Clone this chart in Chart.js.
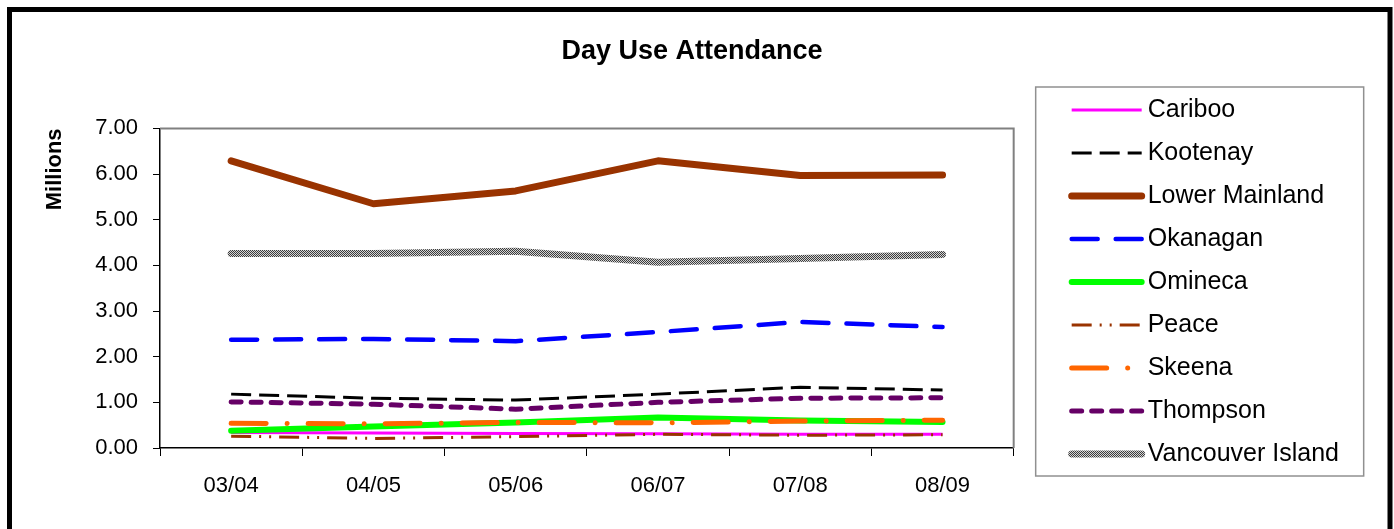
<!DOCTYPE html>
<html>
<head>
<meta charset="utf-8">
<script src="https://cdn.jsdelivr.net/npm/chart.js@4.4.1/dist/chart.umd.min.js"></script>
<style>
body { margin: 0; background: #fff; }
#wrap { width: 1394px; height: 529px; }
</style>
</head>
<body>
<div id="wrap"><canvas id="lineChart"></canvas></div>
<script>
// data (millions of visits)
var seasons = ["03/04", "04/05", "05/06", "06/07", "07/08", "08/09"];
var cariboo = [0.34, 0.33, 0.32, 0.31, 0.30, 0.30];
var kootenay = [1.18, 1.09, 1.05, 1.18, 1.33, 1.27];
var lowerMainland = [6.29, 5.35, 5.63, 6.29, 5.97, 5.98];
var okanagan = [2.37, 2.39, 2.34, 2.54, 2.76, 2.65];
var omineca = [0.38, 0.47, 0.56, 0.67, 0.60, 0.57];
var peace = [0.26, 0.21, 0.25, 0.30, 0.28, 0.29];
var skeena = [0.54, 0.53, 0.56, 0.55, 0.59, 0.61];
var thompson = [1.01, 0.96, 0.85, 1.00, 1.09, 1.10];
var vancouverIsland = [4.26, 4.26, 4.31, 4.07, 4.15, 4.24];
var yTicks = [0, 1, 2, 3, 4, 5, 6, 7];

var FONT = "'Liberation Sans', Arial, sans-serif";
var LEG_BOX = 103.5;   // blank space before legend text; the sample line is drawn in it

var ctxL = document.getElementById("lineChart").getContext('2d');

// grainy grey texture for Vancouver Island
var pc = document.createElement('canvas');
pc.width = 2; pc.height = 2;
var px = pc.getContext('2d');
px.fillStyle = '#d4d4d4'; px.fillRect(0, 0, 2, 2);
px.fillStyle = '#3c3c3c'; px.fillRect(0, 0, 1, 1); px.fillRect(1, 1, 1, 1);
var viPattern = ctxL.createPattern(pc, 'repeat');

function series(label, data, color, width, dash, cap, i) {
  return {
    label: label,
    data: data,
    borderColor: color,
    backgroundColor: color,
    borderWidth: width,
    borderDash: dash,
    borderCapStyle: cap,
    borderJoinStyle: 'round',
    pointRadius: 0,
    tension: 0,
    fill: false,
    order: 8 - i
  };
}

var frame = {
  id: 'frame',
  beforeDraw: function(chart) {
    var c = chart.ctx;
    c.save();
    c.fillStyle = '#fff';
    c.fillRect(0, 0, chart.width, chart.height);
    c.strokeStyle = '#000';
    c.lineWidth = 5;
    c.strokeRect(9.5, 9.5, 1380.5, 560);
    c.restore();
  },
  beforeDatasetsDraw: function(chart) {
    var a = chart.chartArea, c = chart.ctx;
    c.save();
    c.strokeStyle = '#808080';
    c.lineWidth = 2;
    c.beginPath();
    c.moveTo(a.left, a.top);
    c.lineTo(a.right, a.top);
    c.lineTo(a.right, a.bottom);
    c.stroke();
    c.restore();
  },
  afterDraw: function(chart) {
    var hb = chart.legend.legendHitBoxes;
    var items = chart.legend.legendItems;
    if (!hb || !hb.length) return;
    var c = chart.ctx;
    // legend samples with the series' own dash styles
    hb.forEach(function(h, i) {
      var ds = chart.data.datasets[items[i].datasetIndex];
      var tx = h.left + LEG_BOX + 12.5;
      var y = h.top + h.height / 2;
      c.save();
      c.strokeStyle = ds.borderColor;
      c.lineWidth = ds.borderWidth;
      c.lineCap = ds.borderCapStyle;
      c.setLineDash(ds.borderDash);
      c.beginPath();
      c.moveTo(tx - 76, y);
      c.lineTo(tx - 6, y);
      c.stroke();
      c.restore();
    });
    var last = hb[hb.length - 1];
    var x0 = hb[0].left + LEG_BOX + 12.5 - 112;
    var y0 = hb[0].top + hb[0].height / 2 - 23;
    var y1 = last.top + last.height / 2 + 22;
    c.save();
    c.strokeStyle = '#909090';
    c.lineWidth = 1.5;
    c.strokeRect(x0, y0, 328, y1 - y0);
    c.restore();
  }
};

var myLineChart = new Chart(ctxL, {
  type: 'line',
  data: {
    labels: seasons,
    datasets: [
      series("Cariboo", cariboo, '#FF00FF', 3, [], 'butt', 0),
      series("Kootenay", kootenay, '#000000', 3, [20, 8], 'butt', 1),
      series("Lower Mainland", lowerMainland, '#993300', 7, [], 'round', 2),
      series("Okanagan", okanagan, '#0000FF', 4.5, [26, 18], 'round', 3),
      series("Omineca", omineca, '#00FF00', 6, [], 'round', 4),
      series("Peace", peace, '#993300', 3, [20, 8, 2, 8, 2, 8], 'butt', 5),
      series("Skeena", skeena, '#FF6600', 5, [35, 21, 0.01, 21], 'round', 6),
      series("Thompson", thompson, '#660066', 5, [10, 10], 'round', 7),
      series("Vancouver Island", vancouverIsland, viPattern, 7, [], 'round', 8)
    ]
  },
  options: {
    responsive: true,
    maintainAspectRatio: false,
    animation: false,
    layout: { padding: { top: 35, left: 35, right: 45, bottom: 0 } },
    plugins: {
      title: {
        display: true,
        text: "Day Use Attendance",
        color: '#000',
        font: { family: FONT, size: 27, weight: 'bold' },
        padding: { top: 0, bottom: 61 }
      },
      legend: {
        position: 'right',
        align: 'center',
        maxWidth: 400,
        labels: {
          boxWidth: LEG_BOX,
          boxHeight: 25,
          padding: 18,
          color: '#000',
          font: { family: FONT, size: 25 },
          sort: function(a, b) { return a.datasetIndex - b.datasetIndex; },
          generateLabels: function(chart) {
            return Chart.defaults.plugins.legend.labels.generateLabels(chart).map(function(it) {
              it.fillStyle = 'rgba(0,0,0,0)';
              it.strokeStyle = 'rgba(0,0,0,0)';
              it.lineWidth = 0;
              return it;
            });
          }
        }
      },
      tooltip: { enabled: false }
    },
    scales: {
      x: {
        offset: true,
        grid: { offset: true, drawOnChartArea: false, tickLength: 8, color: '#000' },
        border: { color: '#000', width: 1.5 },
        ticks: {
          color: '#000', padding: 17, maxRotation: 0,
          font: { family: FONT, size: 22 }
        },
        afterFit: function(s) { s.height = 81; }
      },
      y: {
        min: 0,
        max: 7,
        afterBuildTicks: function(s) { s.ticks = yTicks.map(function(v) { return { value: v }; }); },
        grid: { drawOnChartArea: false, tickLength: 7, color: '#000' },
        border: { color: '#000', width: 1.5 },
        ticks: {
          color: '#000', padding: 15,
          font: { family: FONT, size: 22 },
          callback: function(v) { return v.toFixed(2); }
        },
        title: {
          display: true,
          text: "Millions",
          align: 'end',
          color: '#000',
          padding: { top: 7, bottom: 0 },
          font: { family: FONT, size: 22, weight: 'bold' }
        },
        afterFit: function(s) { s.width = 125; }
      }
    }
  },
  plugins: [frame]
});
</script>
</body>
</html>
